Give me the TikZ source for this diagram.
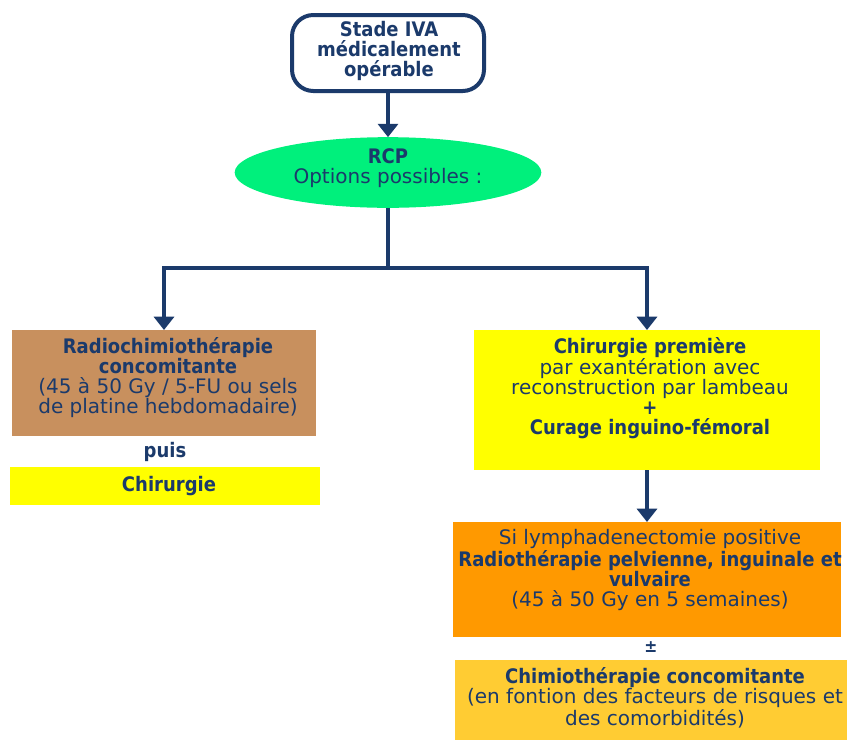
\documentclass[tikz,border=0pt]{standalone}
\usepackage{fontspec}
\setmainfont{DejaVu Sans}[BoldFeatures={FakeStretch=0.9}]
\usetikzlibrary{arrows.meta,shapes.geometric}

\definecolor{navy}{HTML}{1B3A6B}
\definecolor{rcpgreen}{HTML}{00F07C}
\definecolor{tanbox}{HTML}{C8905E}
\definecolor{yellowbox}{HTML}{FFFF00}
\definecolor{orangebox}{HTML}{FF9900}
\definecolor{goldbox}{HTML}{FFCC33}

\begin{document}
\begin{tikzpicture}[x=0.75pt,y=-0.75pt,
  every node/.style={inner sep=0pt, outer sep=0pt},
  txt/.style={text=navy, align=center, font=\fontsize{15}{15}\selectfont},
  panel/.style={rectangle, draw=none},
  link/.style={draw=navy, line width=3pt},
  arr/.style={link, -{Triangle[width=15pt,length=10pt]}}]
\useasboundingbox (0,0) rectangle (851,740);

% start box
\node[rectangle, draw=navy, line width=3pt, rounded corners=16pt, fill=white,
      minimum width=144pt, minimum height=57pt] (stade) at (388,53) {};
\node[txt] (stadetxt) at (389,51)
  {\textbf{Stade IVA}\\\textbf{médicalement}\\\textbf{opérable}};

% multidisciplinary meeting
\node[ellipse, fill=rcpgreen, minimum width=230pt, minimum height=53pt] (rcp) at (388,172.5) {};
\node[txt] (rcptxt) at (388,168) {\textbf{RCP}\\Options possibles :};

% left branch
\node[panel, fill=tanbox, minimum width=228pt, minimum height=79.5pt] (rct) at (164,383) {};
\node[txt] (rcttxt) at (168,378)
  {\textbf{Radiochimiothérapie}\\\textbf{concomitante}\\(45 à 50 Gy / 5-FU ou sels\\de platine hebdomadaire)};
\node[txt] (puis) at (165,452) {\textbf{puis}};
\node[panel, fill=yellowbox, minimum width=232.5pt, minimum height=28.5pt] (chir) at (165,486) {};
\node[txt] (chirtxt) at (169,486) {\textbf{Chirurgie}};

% right branch
\node[panel, fill=yellowbox, minimum width=259.5pt, minimum height=105pt] (chirprem) at (647,400) {};
\node[txt] (chirpremtxt) at (650,388)
  {\textbf{Chirurgie première}\\par exantération avec\\reconstruction par lambeau\\\textbf{+}\\\textbf{Curage inguino-fémoral}};

\node[panel, fill=orangebox, minimum width=291pt, minimum height=86.25pt] (radio) at (647,579.5) {};
\node[txt] (radiotxt) at (650,570)
  {Si lymphadenectomie positive\\\textbf{Radiothérapie pelvienne, inguinale et}\\\textbf{vulvaire}\\(45 à 50 Gy en 5 semaines)};

\node[txt, font=\fontsize{13}{13}\selectfont] (pm) at (651,647) {\textbf{±}};

\node[panel, fill=goldbox, minimum width=294pt, minimum height=60pt] (chimio) at (651,700) {};
\node[txt] (chimiotxt) at (655,698)
  {\textbf{Chimiothérapie concomitante}\\(en fontion des facteurs de risques et\\des comorbidités)};

% connectors
\draw[arr] (stade.south) -- (rcp.north);
\coordinate (split) at (388,268);
\draw[link] (rcp.south) -- (split);
\draw[arr, line join=miter] (split) -| (rct.north);
\draw[arr, line join=miter] (split) -| (chirprem.north);
\draw[arr] (chirprem.south) -- (radio.north);
\end{tikzpicture}
\end{document}
